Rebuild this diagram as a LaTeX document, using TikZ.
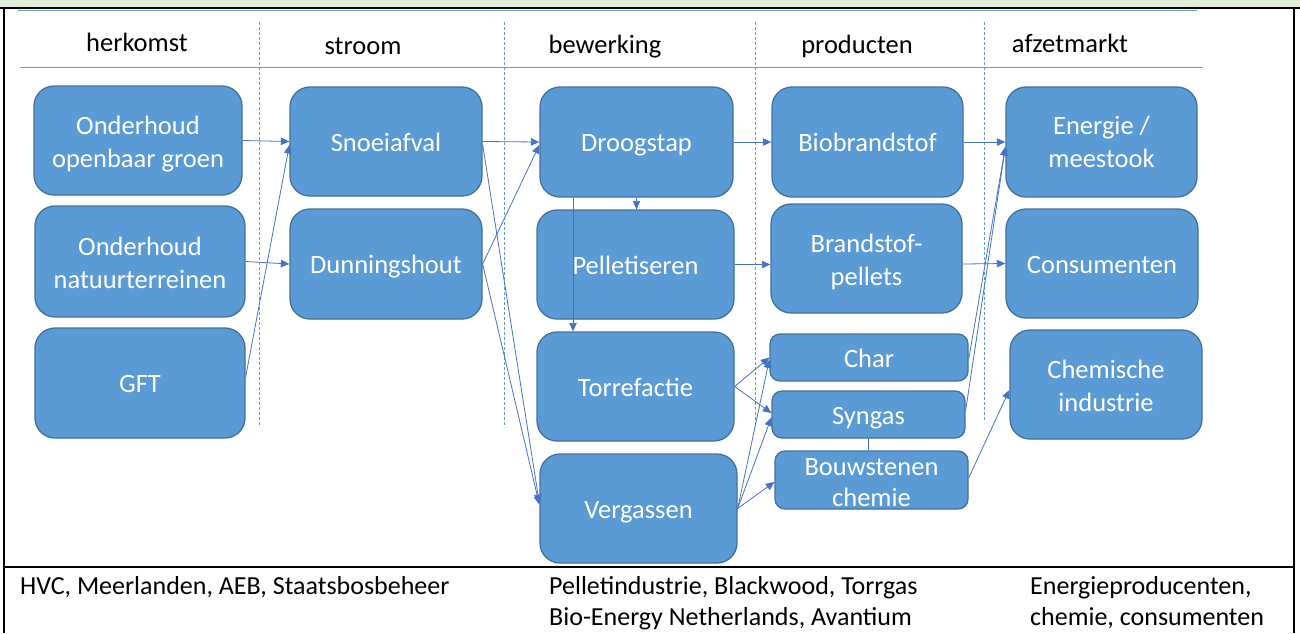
\documentclass[tikz,border=0pt]{standalone}
\usepackage{fontspec}
\setmainfont{Carlito}
\usetikzlibrary{arrows.meta}
\definecolor{boxfill}{HTML}{5B9BD5}
\definecolor{boxline}{HTML}{41719C}
\definecolor{flow}{HTML}{4472C4}
\definecolor{band}{HTML}{E2EFDA}
\definecolor{rule}{HTML}{6F97D0}
\begin{document}
\begin{tikzpicture}[x=1pt,y=-1pt,
  stepbox/.style={draw=boxline, line width=1.3pt, fill=boxfill, rounded corners=20pt,
    text=white, font=\fontsize{26.5}{33}\selectfont, align=center, inner sep=0pt},
  single/.style={text height=19.5pt, text depth=0pt},
  double/.style={text height=53pt, text depth=0pt},
  smallbox/.style={stepbox, rounded corners=10pt},
  hdr/.style={font=\fontsize{26.5}{32}\selectfont, inner sep=0pt, anchor=base},
  foot/.style={font=\fontsize{26}{31}\selectfont, inner sep=0pt, anchor=base west},
  flowline/.style={draw=flow, line width=0.8pt, -{Triangle[length=8.5pt,width=7.5pt]}},
  plainline/.style={draw=flow, line width=0.8pt},
  divider/.style={draw=boxfill, line width=0.8pt, dash pattern=on 3pt off 2pt}]
\useasboundingbox (0,0) rectangle (1300,633);

% frame and header band
\fill[band] (0,0) rectangle (1300,7);
\draw[line width=2pt] (0,7.5) -- (1300,7.5);
\draw[line width=2pt] (4,7) -- (4,633);
\draw[line width=2pt] (1294,7) -- (1294,633);
\draw[line width=2pt] (4,567) -- (1294,567);
\draw[rule, line width=0.8pt] (18,10) -- (1197,10);
\draw[rule, line width=0.8pt] (20,67) -- (1203,67);

% column dividers
\draw[divider] (259,22) -- (259,427);
\draw[divider] (504,22) -- (504,427);
\draw[divider] (755,22) -- (755,427);
\draw[divider] (984,22) -- (984,422);

% column headings
\node[hdr] (h1) at (137,51) {herkomst};
\node[hdr] (h2) at (363,54) {stroom};
\node[hdr] (h3) at (605,53) {bewerking};
\node[hdr] (h4) at (857,53) {producten};
\node[hdr] (h5) at (1070,52) {afzetmarkt};

% herkomst
\node[stepbox, double, minimum width=208pt, minimum height=109pt] (og) at (138,140.5) {Onderhoud\\openbaar groen};
\node[stepbox, double, minimum width=210pt, minimum height=111pt] (nt) at (140,261.5) {Onderhoud\\natuurterreinen};
\node[stepbox, single, minimum width=210pt, minimum height=110pt] (gft) at (140,383) {GFT};

% stroom
\node[stepbox, single, minimum width=192pt, minimum height=109pt] (snoei) at (386,141.5) {Snoeiafval};
\node[stepbox, single, minimum width=192pt, minimum height=110pt] (dun) at (386,264) {Dunningshout};

% bewerking
\node[stepbox, single, minimum width=193pt, minimum height=110pt] (droog) at (636.5,142) {Droogstap};
\node[stepbox, single, minimum width=197pt, minimum height=109pt] (pellet) at (635.5,264.5) {Pelletiseren};
\node[stepbox, single, minimum width=197pt, minimum height=109pt] (torre) at (635.5,386.5) {Torrefactie};
\node[stepbox, single, minimum width=197pt, minimum height=109pt] (verg) at (638.5,508.5) {Vergassen};

% producten
\node[stepbox, single, minimum width=191pt, minimum height=110pt] (bio) at (867.5,142) {Biobrandstof};
\node[stepbox, double, text height=53pt, minimum width=191pt, minimum height=109pt] (bpel) at (866.5,258.5) {Brandstof-\\pellets};
\node[smallbox, single, minimum width=198pt, minimum height=47pt] (char) at (869,357.5) {Char};
\node[smallbox, single, minimum width=193pt, minimum height=47pt] (syn) at (868.5,414.5) {Syngas};
\node[smallbox, double, text height=52pt, minimum width=193pt, minimum height=58pt, font=\fontsize{26.5}{31}\selectfont] (bouw) at (871.5,480) {Bouwstenen\\chemie};

% afzetmarkt
\node[stepbox, double, text height=51pt, minimum width=191pt, minimum height=110pt] (energ) at (1101.5,142) {Energie /\\meestook};
\node[stepbox, single, minimum width=192pt, minimum height=109pt] (cons) at (1102,263.5) {Consumenten};
\node[stepbox, double, text height=54pt, minimum width=192pt, minimum height=109pt] (chem) at (1106,384.5) {Chemische\\industrie};

% flows: herkomst to stroom
\draw[flowline] (og.east) -- (snoei.west);
\draw[flowline] (nt.east) -- (dun.west);
\draw[flowline] ([yshift=6pt]gft.east) -- ([yshift=-3.5pt]snoei.west);

% flows: stroom to bewerking
\draw[flowline] (snoei.east) -- (droog.west);
\draw[flowline] (dun.east) -- ([yshift=-3pt]droog.west);
\draw[flowline] ([yshift=-3pt]snoei.east) -- ([yshift=5.5pt]verg.west);
\draw[flowline] (dun.east) -- ([yshift=4pt]verg.west);

% flows inside bewerking
\draw[flowline] (droog.south) -- (droog.south |- pellet.north);
\draw[flowline] ([xshift=-63.5pt]droog.south) -- ([xshift=-63.5pt]droog.south |- torre.north);

% flows: bewerking to producten
\draw[flowline] (droog.east) -- (bio.west);
\draw[flowline] (pellet.east) -- (pellet.east -| bpel.west);
\draw[flowline] (torre.east) -- (char.west);
\draw[flowline] (torre.east) -- ([yshift=1.5pt]syn.west);
\draw[flowline] (verg.east) -- ([yshift=-2pt]char.west);
\draw[flowline] (verg.east) -- ([yshift=-3pt]syn.west);
\draw[flowline] (verg.east) -- ([yshift=-2pt]bouw.west);
\draw[plainline] (syn.south) -- (syn.south |- bouw.north);

% flows: producten to afzetmarkt
\draw[flowline] (bio.east) -- (energ.west);
\draw[flowline] ([yshift=-5.5pt]bpel.east) -- (cons.west);
\draw[flowline] ([yshift=-2pt]char.east) -- ([yshift=-5pt]energ.west);
\draw[flowline] ([yshift=4pt]syn.east) -- ([yshift=-5pt]energ.west);
\draw[flowline] ([yshift=2pt]bouw.east) -- ([yshift=-5.5pt]chem.west);

% parties per segment
\node[foot] (f1) at (20,594) {HVC, Meerlanden, AEB, Staatsbosbeheer};
\node[foot] (f2) at (549,594) {Pelletindustrie, Blackwood, Torrgas};
\node[foot] (f3) at (549,625) {Bio-Energy Netherlands, Avantium};
\node[foot] (f4) at (1030,594) {Energieproducenten,};
\node[foot] (f5) at (1030,625) {chemie, consumenten};
\end{tikzpicture}
\end{document}
